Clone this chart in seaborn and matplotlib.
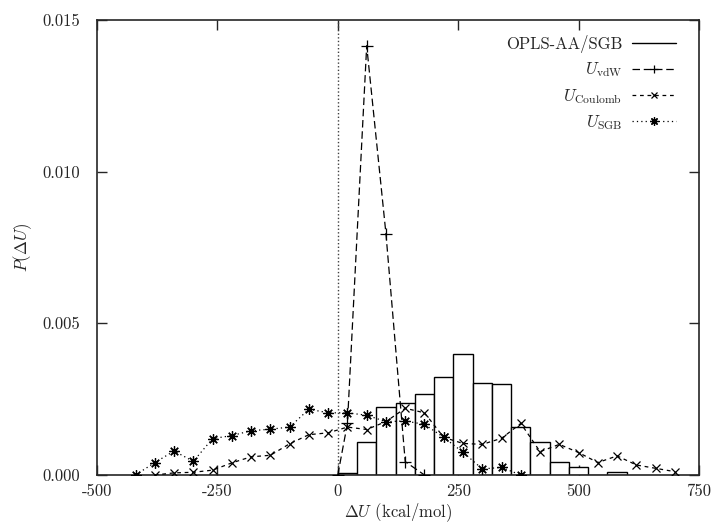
import matplotlib
matplotlib.use("Agg")
import matplotlib.pyplot as plt
import seaborn as sns
import numpy as np
from matplotlib.lines import Line2D

# ---------------- data ----------------
bin_edges = [0, 40, 80, 120, 160, 200, 240, 280, 320, 360, 400, 440, 480, 520, 560, 600]
hist_heights = [0.00005, 0.00108, 0.00223, 0.00236, 0.00266, 0.00322, 0.00399,
                0.00304, 0.00300, 0.00159, 0.00109, 0.00044, 0.00026, 0.0, 0.00009]

vdw_x = [0, 20, 60, 100, 140, 180]
vdw_y = [0.0, 0.00170, 0.01415, 0.00795, 0.00044, 0.0]

coul_x = [-380, -340, -300, -260, -220, -180, -140, -100, -60, -20, 20, 60, 100, 140,
          180, 220, 260, 300, 340, 380, 420, 460, 500, 540, 580, 620, 660, 700]
coul_y = [0.0, 0.00007, 0.00009, 0.00016, 0.00040, 0.00060, 0.00065, 0.00103, 0.00133,
          0.00139, 0.00158, 0.00150, 0.00176, 0.00220, 0.00205, 0.00124, 0.00104,
          0.00101, 0.00121, 0.00170, 0.00077, 0.00101, 0.00074, 0.00041, 0.00063,
          0.00033, 0.00022, 0.00011]

sgb_x = [-420, -380, -340, -300, -260, -220, -180, -140, -100, -60, -20, 20, 60, 100,
         140, 180, 220, 260, 300, 340, 380]
sgb_y = [0.0, 0.00041, 0.00079, 0.00045, 0.00120, 0.00130, 0.00146, 0.00151, 0.00158,
         0.00217, 0.00205, 0.00205, 0.00197, 0.00176, 0.00178, 0.00167, 0.00124,
         0.00075, 0.00020, 0.00025, 0.0]

x_ticks = [-500, -250, 0, 250, 500, 750]
y_ticks = [0.000, 0.005, 0.010, 0.015]
y_tick_labels = ["0.000", "0.005", "0.010", "0.015"]

labels = ["OPLS-AA/SGB", r"$U_{\mathrm{vdW}}$", r"$U_{\mathrm{Coulomb}}$", r"$U_{\mathrm{SGB}}$"]

# ---------------- style ----------------
sns.set_style("ticks")
plt.rcParams.update({
    "font.family": "serif",
    "font.serif": ["cmr10"],
    "mathtext.fontset": "cm",
    "axes.unicode_minus": False,
    "axes.formatter.use_mathtext": True,
    "font.size": 12,
})

fig = plt.figure(figsize=(7.16, 5.23), dpi=100)
ax = fig.add_axes([97 / 716, 1 - 475 / 523, 602 / 716, 455 / 523])

# zero line
ax.axvline(0, color="0.25", lw=1.0, ls=(0, (1, 1.6)), zorder=1)

# histogram
bin_edges_arr = np.array(bin_edges, dtype=float)
centers = (bin_edges_arr[:-1] + bin_edges_arr[1:]) / 2
sns.histplot(x=centers, weights=hist_heights, bins=bin_edges, stat="count",
             color="white", edgecolor="black", linewidth=1.0, alpha=1.0,
             ax=ax, zorder=2)


def style_line(line, ls, marker, ms):
    line.set_linestyle(ls)
    line.set_marker(marker)
    line.set_markersize(ms)
    line.set_markeredgewidth(0.9)
    line.set_markeredgecolor("black")
    line.set_markerfacecolor("black")
    line.set_color("black")
    line.set_linewidth(0.9)
    line.set_zorder(3)
    return line


# lines
sns.lineplot(x=vdw_x, y=vdw_y, ax=ax, color="black", errorbar=None)
h_vdw = style_line(ax.lines[-1], (0, (6, 3)), "+", 8)
sns.lineplot(x=coul_x, y=coul_y, ax=ax, color="black", errorbar=None)
h_coul = style_line(ax.lines[-1], (0, (3, 3)), "x", 6)
sns.lineplot(x=sgb_x, y=sgb_y, ax=ax, color="black", errorbar=None)
h_sgb = style_line(ax.lines[-1], (0, (1, 2.5)), (8, 2, 0), 7.5)

# axes
ax.set_xlim(-500, 750)
ax.set_ylim(0, 0.015)
ax.set_xticks(x_ticks)
ax.set_xticklabels([str(t) for t in x_ticks])
ax.set_yticks(y_ticks)
ax.set_yticklabels(y_tick_labels)
ax.tick_params(direction="in", length=7, width=1, top=True, right=True,
               labelsize=12)
ax.tick_params(axis="x", pad=6)
ax.tick_params(axis="y", pad=12)
for s in ax.spines.values():
    s.set_linewidth(1.2)
ax.set_xlabel(r"$\Delta U$ (kcal/mol)", fontsize=12, labelpad=2)
ax.set_ylabel(r"$P(\Delta U)$", fontsize=12, labelpad=6)

h_hist = Line2D([], [], color="black", lw=1.0)
leg = ax.legend([h_hist, h_vdw, h_coul, h_sgb], labels, loc="upper right",
                bbox_to_anchor=(0.975, 0.985), frameon=False, markerfirst=False,
                handlelength=2.6, handletextpad=0.6, labelspacing=0.45,
                borderpad=0, numpoints=1, fontsize=12, markerscale=0.8)

fig.savefig("out.png", dpi=100)
